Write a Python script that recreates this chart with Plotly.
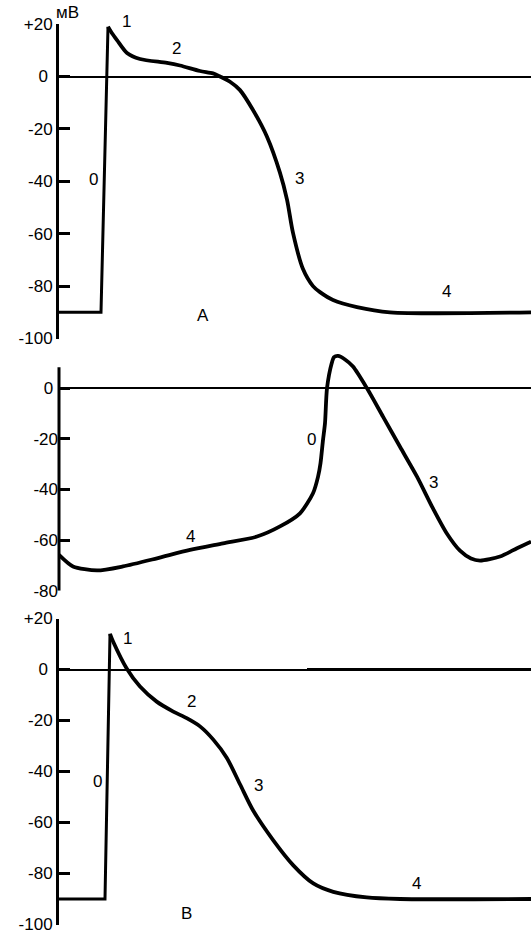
import plotly.graph_objects as go

# ---------- data (time in arbitrary units, potential in mV) ----------
# Panel A : working (ventricular) myocyte
a_time = [0, 42, 49, 53, 58, 68, 81, 108, 121, 141, 154, 161, 171, 181, 194, 208, 221, 228,
          234, 244, 254, 261, 274, 298, 331, 472]
a_mv = [-90, -90, 19, 16.5, 13.9, 9.0, 6.7, 5.2, 4.2, 2.1, 1.2, 0, -2.0, -5.2, -12.8, -23, -36.8, -47,
        -59.7, -73.5, -80.0, -82.3, -85.3, -88, -90, -90]

# Panel Б : pacemaker (sinoatrial) cell
b_time = [0, 14, 38, 64, 98, 131, 164, 198, 221, 241, 254, 259, 261.5, 264, 266, 268, 272.7, 275,
          279, 286, 294, 308, 324, 341, 358, 374, 388, 401, 412, 421, 441, 458, 472]
b_mv = [-65.8, -70.4, -72, -70.4, -67.2, -63.9, -61.3, -58.6, -54.6, -49.4, -41.5, -35, -29.6,
        -20.4, -13.8, 0, 9.9, 12.3, 12.8, 11.4, 8.6, 0, -11.2, -23.1, -34.9, -47.5, -57.5, -64.2,
        -67.3, -68.1, -66.5, -63.2, -60.6]

# Panel В : atrial myocyte
c_time = [0, 46, 51, 54.3, 67.7, 81, 97.7, 114.3, 127.7, 141, 154.3, 167.7, 181, 194.3, 214.3,
          234.3, 254.3, 274.3, 307.7, 341, 472]
c_mv = [-90, -90, 14, 10.8, 0.4, -6.7, -12.6, -16.5, -19.1, -22.3, -27.5, -34.6, -45, -55.4, -67,
        -76.8, -83.9, -87.2, -89.4, -90, -90]

tick_vals_ac = [20, 0, -20, -40, -60, -80, -100]
tick_text_ac = ["+20", "0\u00a0", "-20", "-40", "-60", "-80", "-100"]
tick_vals_b = [0, -20, -40, -60, -80]
tick_text_b = ["0\u00a0", "-20", "-40", "-60", "-80"]

# phase labels: (text, time, mV)
labels_a = [("2", 117, 10.8), ("0", 34.3, -39.5), ("3", 240.3, -38.9),
            ("4", 387.7, -82.1), ("А", 144.3, -91.4)]
labels_b = [("0", 252.7, -20.4), ("4", 131, -58.7), ("3", 374.3, -37.3), ("Б", 294.3, -81.7)]
labels_c = [("1", 68.3, 12.3), ("2", 132.7, -12.6), ("3", 199.3, -45.3), ("0", 38.3, -43.8),
            ("4", 357.7, -83.9), ("В", 127.7, -95.5)]
# labels above the top of panel A (figure pixel positions converted to paper fractions)
labels_top = [("мВ", 67.5, 12.5), ("1", 126, 21)]

W, H = 531, 935
FONT = "Liberation Sans, Arial, Helvetica, sans-serif"
LW = 3.8
black = "#000000"

fig = go.Figure()

# Panel A
fig.add_trace(go.Scatter(x=a_time[:3], y=a_mv[:3], mode="lines",
                         line=dict(color=black, width=3), xaxis="x", yaxis="y"))
fig.add_trace(go.Scatter(x=a_time[2:], y=a_mv[2:], mode="lines",
                         line=dict(color=black, width=LW, shape="spline", smoothing=0.8),
                         xaxis="x", yaxis="y"))
# Panel Б
fig.add_trace(go.Scatter(x=b_time, y=b_mv, mode="lines",
                         line=dict(color=black, width=LW, shape="spline", smoothing=0.7),
                         xaxis="x2", yaxis="y2"))
# Panel В
fig.add_trace(go.Scatter(x=c_time[:3], y=c_mv[:3], mode="lines",
                         line=dict(color=black, width=3), xaxis="x3", yaxis="y3"))
fig.add_trace(go.Scatter(x=c_time[2:], y=c_mv[2:], mode="lines",
                         line=dict(color=black, width=LW, shape="spline", smoothing=0.8),
                         xaxis="x3", yaxis="y3"))

xdom = [59 / W, 1]
xcommon = dict(domain=xdom, range=[0, 472], visible=False, fixedrange=True, automargin=False)
ycommon = dict(ticks="inside", ticklen=11, tickwidth=3, tickcolor=black,
               showgrid=False, zeroline=True, zerolinewidth=2, zerolinecolor=black,
               tickfont=dict(family=FONT, size=17, color=black), automargin=False,
               ticklabeloverflow="allow",
               linecolor=black, linewidth=3, fixedrange=True)

fig.update_layout(
    template="none",
    width=W, height=H,
    margin=dict(l=0, r=0, t=0, b=0, pad=0, autoexpand=False),
    paper_bgcolor="white", plot_bgcolor="white",
    showlegend=False,
    xaxis=dict(**xcommon, anchor="y"),
    xaxis2=dict(**xcommon, anchor="y2"),
    xaxis3=dict(**xcommon, anchor="y3"),
    yaxis=dict(**ycommon, anchor="x",
               domain=[1 - 338.5 / H, 1 - 24.1 / H], range=[-100, 20],
               tickvals=tick_vals_ac, ticktext=tick_text_ac, showline=True),
    yaxis2=dict(**ycommon, anchor="x2",
                domain=[1 - 590.7 / H, 1 - 352.9 / H], range=[-80, 14],
                tickvals=tick_vals_b, ticktext=tick_text_b, showline=False),
    yaxis3=dict(**ycommon, anchor="x3",
                domain=[1 - 924.5 / H, 1 - 618.5 / H], range=[-100, 20],
                tickvals=tick_vals_ac, ticktext=tick_text_ac, showline=True),
)

# axis line of panel Б only spans -80 … +8 mV
fig.add_shape(type="line", xref="x2 domain", yref="y2", x0=0, x1=0, y0=-80, y1=8.3,
              line=dict(color=black, width=3))
# thicker part of zero line in panel В
fig.add_shape(type="line", xref="x3", yref="y3", x0=248, x1=472, y0=0, y1=0,
              line=dict(color=black, width=3))

def add_labels(items, xr, yr):
    for txt, t, v in items:
        fig.add_annotation(text=txt, x=t, y=v, xref=xr, yref=yr, showarrow=False,
                           xanchor="center", yanchor="middle",
                           font=dict(family=FONT, size=17, color=black))

add_labels(labels_a, "x", "y")
add_labels(labels_b, "x2", "y2")
add_labels(labels_c, "x3", "y3")
for txt, px, py in labels_top:
    fig.add_annotation(text=txt, x=px / W, y=1 - py / H, xref="paper", yref="paper",
                       xanchor="center", yanchor="middle", showarrow=False,
                       font=dict(family=FONT, size=17, color=black))

fig.write_html("out.html", config={"displayModeBar": False},
               post_script="document.body.style.margin='0';document.body.style.overflow='hidden';")
